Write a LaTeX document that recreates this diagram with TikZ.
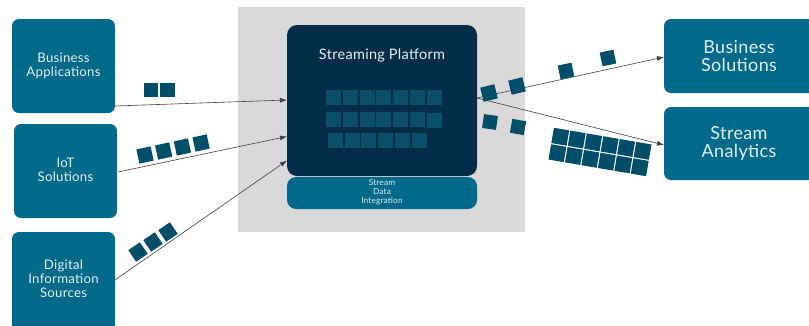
\documentclass[tikz,border=0pt]{standalone}
\usepackage{fontspec}
\setmainfont{Lato}[LetterSpace=2]
\usetikzlibrary{arrows.meta}
\definecolor{teal}{HTML}{006A8A}
\definecolor{navy}{HTML}{042E48}
\definecolor{sqout}{HTML}{004E69}
\definecolor{sqin}{HTML}{0C4F6B}
\definecolor{bggray}{HTML}{D9D9D9}
\definecolor{txt}{HTML}{E4EEF2}
\tikzset{
  srcbox/.style={fill=teal, rounded corners=7pt, draw=none},
  lbl/.style={text=txt, align=center, inner sep=0pt},
  sq/.style={fill=sqout, minimum size=14.5pt, inner sep=0pt, draw=none},
  isq/.style={fill=sqin, minimum size=15pt, inner sep=0pt, draw=none},
  conn/.style={draw=black!75, line width=0.6pt, -{Latex[length=7pt,width=5pt]}}
}
\begin{document}
\begin{tikzpicture}[x=1pt,y=-1pt]
\clip (0,0) rectangle (809,325);
\fill[white] (0,0) rectangle (809,325);
% gray background
\fill[bggray] (238,7) rectangle (525,232);
% platform
\fill[navy, rounded corners=10pt] (287,25) rectangle (477,176);
\node[lbl, font=\fontsize{14.5}{16}\selectfont] (plat) at (382,55) {Streaming Platform};
\fill[teal, rounded corners=9pt] (287,177) rectangle (477,209);
\node[lbl, font=\fontsize{8.3}{9.2}\selectfont] (sdi) at (382,192) {Stream\\Data\\Integration};
% inner grid
\foreach \i in {0,...,6} {\node[isq] (ra\i) at (333.5+16.8*\i,97.5) {};}
\foreach \i in {0,...,5} {\node[isq] (rb\i) at (333.5+16.8*\i,119) {};}
\node[isq] (rb6) at (333.5+16.8*6,120.5) {};
\foreach \i in {0,...,5} {\node[isq] (rc\i) at (335.5+16.7*\i,140.5) {};}
% left boxes
\fill[srcbox] (12,19) rectangle (115,113);
\node[lbl, font=\fontsize{13.2}{14}\selectfont] (ba) at (63.5,65.5) {Business\\Applications};
\fill[srcbox] (14,124) rectangle (117,218);
\node[lbl, font=\fontsize{13.2}{14}\selectfont] (iot) at (65.5,170) {IoT\\Solutions};
\fill[srcbox] (12,232) rectangle (115,340);
\node[lbl, font=\fontsize{13.2}{14}\selectfont] (dis) at (63.5,278.5) {Digital\\Information\\Sources};
% right boxes
\fill[srcbox] (664,19) rectangle (830,93);
\node[lbl, font=\fontsize{18}{18.5}\selectfont] (bs) at (739,56) {Business\\Solutions};
\fill[srcbox] (664,107) rectangle (830,180);
\node[lbl, font=\fontsize{18}{18.5}\selectfont] (sa) at (739,143.5) {Stream\\Analytics};
% connector end points
\coordinate (baout) at (115,106);
\coordinate (iotout) at (118,172);
\coordinate (disout) at (115,280);
\coordinate (pin1) at (287,100);
\coordinate (pin2) at (287,136.5);
\coordinate (pin3) at (287,160.5);
\coordinate (pout) at (477,98);
\coordinate (bsin) at (664,57);
\coordinate (sain) at (664,145);
\draw[conn] (baout) -- (pin1);
\draw[conn] (iotout) -- (pin2);
\draw[conn] (disout) -- (pin3);
\draw[conn] (pout) -- (bsin);
\draw[conn] (pout) -- (sain);
% squares on left arrows
\node[sq] (b1) at (151,90) {};
\node[sq] (b2) at (167.5,90) {};
\foreach \i in {0,...,3} {\node[sq, rotate=12] (i\i) at (145+18.7*\i,155-4*\i) {};}
\foreach \i in {0,...,2} {\node[sq, rotate=34, minimum size=14pt] (d\i) at (138+15*\i,252-10*\i) {};}
% squares on right side
\node[sq, rotate=14] (o1) at (489,93) {};
\node[sq, rotate=14] (o2) at (517,86) {};
\node[sq, rotate=12, minimum size=14pt] (o3) at (566,71) {};
\node[sq, rotate=12, minimum size=14pt] (o4) at (608,58) {};
\node[sq, rotate=-8, minimum size=14pt] (o5) at (490,122) {};
\node[sq, rotate=-10, minimum size=14pt] (o6) at (518,127) {};
% analytics grid (rows tilted down to the right)
\foreach \r in {0,1} {\foreach \c in {0,...,5} {
  \pgfmathsetmacro{\gx}{600+(\c-2.5)*16.7*0.9857-(\r-0.5)*16.7*0.1685}
  \pgfmathsetmacro{\gy}{152+(\c-2.5)*16.7*0.1685+(\r-0.5)*16.7*0.9857}
  \node[sq, minimum size=15.5pt, rotate=-9.7] (g\r\c) at (\gx,\gy) {};
}}
\end{tikzpicture}
\end{document}
